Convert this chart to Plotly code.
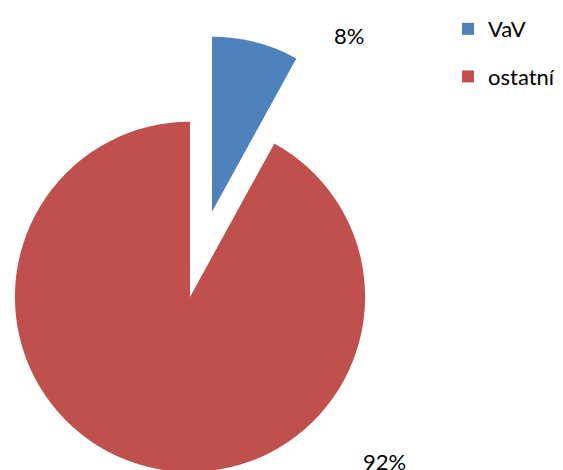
import plotly.graph_objects as go

labels = ["VaV", "ostatní"]
values = [8, 92]
colors = ["#4F81BD", "#C0504D"]

# the page body adds an 8px offset; the figure runs 2px past the window bottom
OFF = 8
W, H = 563 - OFF, 472 - OFF
FONT = "Lato"
total = sum(values)
pct = [f"{round(100 * v / total)}%" for v in values]


def px(x):
    return (x - OFF) / W


def py(y):
    return 1 - (y - OFF) / H


fig = go.Figure()

# legend-only tiny pies, hidden beneath the red pie
for i, (lab, v, c) in enumerate(zip(labels, values, colors)):
    fig.add_trace(go.Pie(
        labels=[lab], values=[v], marker=dict(colors=[c], line=dict(width=0)),
        textinfo="none", sort=False, showlegend=True, legendgroup=f"g{i}",
        hoverinfo="skip",
        domain=dict(x=[0.2, 0.202], y=[0.4, 0.402]),
    ))

# remainder slice (not pulled), centre (190, 295), r 177 in window pixels
fig.add_trace(go.Pie(
    labels=labels, values=values, sort=False, direction="clockwise", rotation=0,
    marker=dict(colors=["rgba(0,0,0,0)", colors[1]], line=dict(width=0)),
    textinfo="none", showlegend=False, hoverinfo="label+percent",
    domain=dict(x=[px(13), px(367)], y=[max(0, py(472)), py(118)]),
))

# exploded slice, centre (212, 209)
fig.add_trace(go.Pie(
    labels=labels, values=values, sort=False, direction="clockwise", rotation=0,
    marker=dict(colors=[colors[0], "rgba(0,0,0,0)"], line=dict(width=0)),
    textinfo="none", showlegend=False, hoverinfo="label+percent",
    domain=dict(x=[px(35), px(389)], y=[py(386), py(32)]),
))

label_pos = [(px(349), py(31)), (px(385), py(461))]
for (x, y), t in zip(label_pos, pct):
    fig.add_annotation(x=x, y=y, xref="paper", yref="paper", text=t,
                       showarrow=False, xanchor="center", yanchor="middle",
                       font=dict(family=FONT, size=22, color="#000000"))

fig.update_layout(
    width=W, height=H,
    margin=dict(l=0, r=0, t=0, b=0),
    paper_bgcolor="white", plot_bgcolor="white",
    font=dict(family=FONT, size=22, color="#000000"),
    legend=dict(x=px(448), y=py(3), xanchor="left", yanchor="top",
                tracegroupgap=16, font=dict(family=FONT, size=22)),
)

fig.write_html("out.html")
